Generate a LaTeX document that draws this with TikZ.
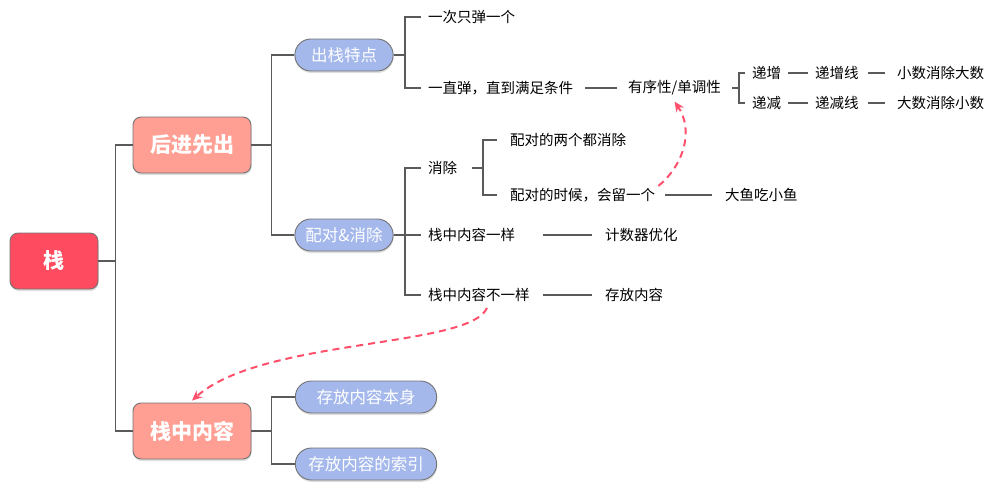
\documentclass[tikz,border=0pt]{standalone}
\usepackage{fontspec}
\setmainfont{Noto Sans CJK SC}
\usetikzlibrary{shapes.misc,shadows,arrows.meta}

\definecolor{rootred}{HTML}{FF4B5F}
\definecolor{salmon}{HTML}{FF9E92}
\definecolor{pillblue}{HTML}{A4B8EC}
\definecolor{linegray}{HTML}{5A5A5A}
\definecolor{dashred}{HTML}{FF4F6A}

\tikzset{
  box/.style={draw=linegray!85, line width=0.9pt, rounded corners=8pt, text=white,
    drop shadow={shadow xshift=0.5pt, shadow yshift=-2pt, opacity=0.25}},
  rootbox/.style={box, fill=rootred, minimum width=88pt, minimum height=56pt,
    font=\fontsize{21}{24}\selectfont\bfseries},
  topicbox/.style={box, fill=salmon, minimum width=118pt, minimum height=56pt,
    font=\fontsize{21}{24}\selectfont\bfseries},
  pill/.style={draw=linegray!85, line width=0.9pt, rounded rectangle, fill=pillblue,
    minimum height=32pt, text=white, font=\fontsize{16.5}{18}\selectfont,
    drop shadow={shadow xshift=0.5pt, shadow yshift=-2pt, opacity=0.25}},
  leaf/.style={anchor=west, inner xsep=7pt, inner ysep=2pt, font=\fontsize{14.5}{16}\selectfont},
  branch/.style={draw=linegray, line width=1.9pt},
  hint/.style={draw=dashred, line width=2pt, dash pattern=on 7pt off 5pt,
    -{Stealth[length=10pt,width=9pt]}},
}

\begin{document}
\begin{tikzpicture}[x=1pt,y=-1pt]
  \useasboundingbox (0,0) rectangle (997,490);

  % main boxes
  \node[rootbox]  (zhan) at (54,261)  {栈};
  \node[topicbox] (hjxc) at (192,145) {后进先出};
  \node[topicbox] (zznr) at (192,431) {栈中内容};

  \node[pill, minimum width=105pt] (cztd) at (344,55)  {出栈特点};
  \node[pill, minimum width=105pt] (pdxc) at (344,235) {配对\&消除};
  \node[pill, minimum width=148pt] (cfbs) at (366,397) {存放内容本身};
  \node[pill, minimum width=148pt] (cfsy) at (366,464) {存放内容的索引};

  % 出栈特点
  \node[leaf] (ycyg) at (421,17)  {一次只弹一个};
  \node[leaf] (yzd)  at (421,88)  {一直弹，直到满足条件};
  \node[leaf] (yxx)  at (621,88)  {有序性/单调性};
  \node[leaf] (dz)   at (745,73)  {递增};
  \node[leaf] (dj)   at (745,103) {递减};
  \node[leaf] (dzx)  at (808,73)  {递增线};
  \node[leaf] (djx)  at (808,103) {递减线};
  \node[leaf] (xsxc) at (890,73)  {小数消除大数};
  \node[leaf] (dsxc) at (890,103) {大数消除小数};

  % 配对&消除
  \node[leaf] (xc)   at (421,168) {消除};
  \node[leaf] (pd1)  at (503,140) {配对的两个都消除};
  \node[leaf] (pd2)  at (503,195) {配对的时候，会留一个};
  \node[leaf] (dyc)  at (718,195) {大鱼吃小鱼};
  \node[leaf] (nryy) at (421,235) {栈中内容一样};
  \node[leaf] (jsq)  at (598,235) {计数器优化};
  \node[leaf] (nrby) at (421,295) {栈中内容不一样};
  \node[leaf] (cfnr) at (598,295) {存放内容};

  % tree lines
  \draw[branch] (zhan.east) -- ++(17,0) |- (hjxc.west);
  \draw[branch] (zhan.east) -- ++(17,0) |- (zznr.west);
  \draw[branch] (hjxc.east) -- ++(20,0) |- (cztd.west);
  \draw[branch] (hjxc.east) -- ++(20,0) |- (pdxc.west);
  \draw[branch] (zznr.east) -- ++(20,0) |- (cfbs.west);
  \draw[branch] (zznr.east) -- ++(20,0) |- (cfsy.west);

  \draw[branch] (cztd.east) -- ++(11,0) |- (ycyg.west);
  \draw[branch] (cztd.east) -- ++(11,0) |- (yzd.west);
  \draw[branch] ([xshift=5pt]yzd.east) -- ([xshift=-4pt]yxx.west);
  \draw[branch] ([xshift=4pt]yxx.east) -- ++(7,0) |- (dz.west);
  \draw[branch] ([xshift=4pt]yxx.east) -- ++(7,0) |- (dj.west);
  \draw[branch] (dz) -- (dzx);
  \draw[branch] (dj) -- (djx);
  \draw[branch] ([xshift=2pt]dzx.east) -- ([xshift=-5pt]xsxc.west);
  \draw[branch] ([xshift=2pt]djx.east) -- ([xshift=-5pt]dsxc.west);

  \draw[branch] (pdxc.east) -- ++(11,0) |- (xc.west);
  \draw[branch] (pdxc.east) -- ++(11,0) |- (nryy.west);
  \draw[branch] (pdxc.east) -- ++(11,0) |- (nrby.west);
  \draw[branch] ([xshift=8pt]xc.east) -- ++(11,0) |- ([xshift=-6pt]pd1.west);
  \draw[branch] ([xshift=8pt]xc.east) -- ++(11,0) |- ([xshift=-6pt]pd2.west);
  \draw[branch] ([xshift=3pt]pd2.east) -- ([xshift=-6pt]dyc.west);
  \draw[branch] ([xshift=21pt]nryy.east) -- ([xshift=-6pt]jsq.west);
  \draw[branch] ([xshift=6pt]nrby.east) -- ([xshift=-6pt]cfnr.west);

  % dashed hints
  \draw[hint] ([xshift=-4pt]pd2.north east) .. controls (684,165) and (694,130) .. ([yshift=-4pt]yxx.south);
  \draw[hint] ([xshift=8pt,yshift=-4pt]nrby.south) .. controls (470,348) and (262,338) .. ([yshift=2pt]zznr.north);
\end{tikzpicture}
\end{document}
